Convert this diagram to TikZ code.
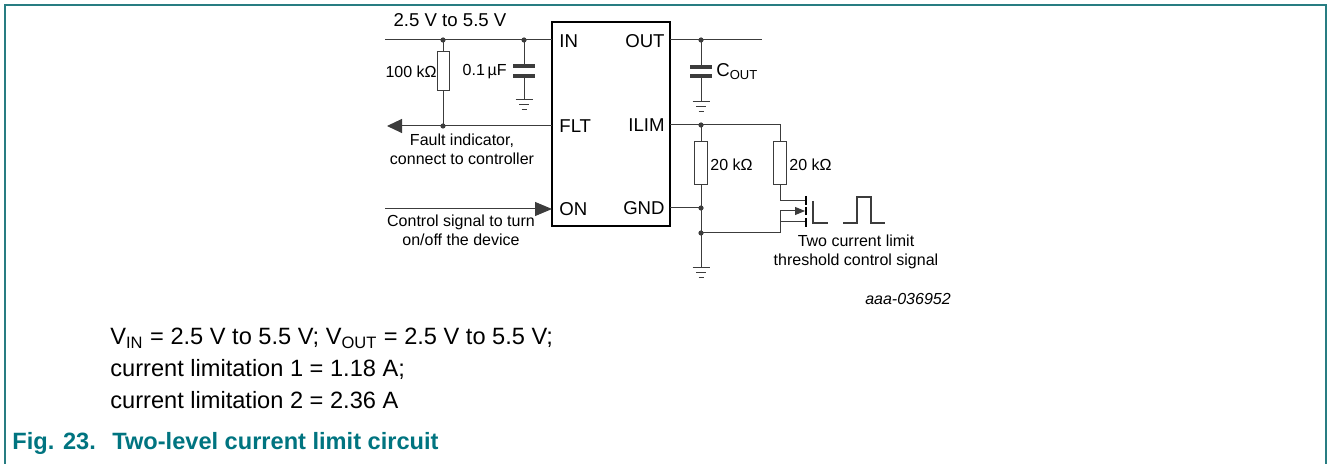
\documentclass[tikz,border=0pt]{standalone}
\usepackage{fontspec}
\setmainfont{Liberation Sans}
\usepackage{tikz}
\usetikzlibrary{arrows, arrows.meta}
\definecolor{wiregray}{RGB}{60,60,60}
\definecolor{nxpteal}{RGB}{0,116,128}
\definecolor{framteal}{RGB}{40,125,130}

\tikzset{gnd/.pic={\draw[wiregray, line width=0.5pt] (-8.5,0) -- (8.5,0) (-5,5) -- (5,5) (-2.5,10) -- (2.5,10);}}

\begin{document}
\begin{tikzpicture}[x=0.5pt, y=-0.5pt]
\tikzstyle{wire}=[draw=wiregray, line width=0.5pt]
\tikzstyle{res}=[draw=wiregray, line width=0.5pt, fill=white, minimum width=6.5pt, minimum height=21.5pt, inner sep=0pt]
\tikzstyle{plate}=[fill=wiregray, minimum width=11pt, minimum height=1.6pt, inner sep=0pt]
\tikzstyle{dot}=[circle, fill=wiregray, minimum size=2.6pt, inner sep=0pt]
\tikzstyle{lbl}=[inner sep=0pt, font=\fontsize{8}{9.6}\selectfont]
\tikzstyle{pin}=[inner sep=0pt, font=\fontsize{9.3}{11}\selectfont]
\tikzstyle{note}=[inner sep=0pt, anchor=base west, font=\fontsize{11.8}{14}\selectfont]
\tikzstyle{bar}=[draw=black, line width=1pt]
\useasboundingbox (0,0) rectangle (1328,464);

% frame
\draw[framteal, line width=1pt] (5,464) -- (5,5) -- (1326,5) -- (1326,464);

% IC
\node[draw, line width=1pt, minimum width=59pt, minimum height=102pt, inner sep=0pt] (ic) at (611,124) {};
\node[pin, anchor=west] (pinin) at (559,41) {IN};
\node[pin, anchor=west] (pinflt) at (559,126) {FLT};
\node[pin, anchor=west] (pinon) at (559,209) {ON};
\node[pin, anchor=east] (pinout) at (665,41) {OUT};
\node[pin, anchor=east] (pinilim) at (665,125) {ILIM};
\node[pin, anchor=east] (pingnd) at (665,208) {GND};

\coordinate (in) at (552,40);
\coordinate (flt) at (552,126);
\coordinate (on) at (552,209);
\coordinate (out) at (670,40);
\coordinate (ilim) at (670,125);
\coordinate (gnd) at (670,208);

% input side
\coordinate (vin) at (385,40);
\coordinate (nr1) at (443,40);
\coordinate (nc1) at (524,40);
\coordinate (nflt) at (443,126);
\coordinate (fault) at (387,126);
\coordinate (ctrl) at (385,209);
\coordinate (g1) at (524,100);

\node[res, minimum width=6pt, minimum height=19.5pt] (r1) at (443,71.5) {};
\node[plate] (c1a) at (524,66) {};
\node[plate] (c1b) at (524,76) {};

\draw[wire] (vin) -- (in);
\draw[wire] (nr1) -- (r1) (r1) -- (nflt);
\draw[wire] (nc1) -- (c1a) (c1b) -- (g1);
\pic at (g1) {gnd};
\draw[wire, -{Triangle[length=7.5pt, width=7pt]}] (flt) -- (fault);
\draw[wire, -{Triangle[length=8.5pt, width=7pt]}] (ctrl) -- (on);
\node[dot] at (nr1) {};
\node[dot] at (nc1) {};
\node[dot] at (nflt) {};

\node[pin, anchor=center] (vlbl) at (450,20) {2.5 V to 5.5 V};
\node[lbl, anchor=east] (r1lbl) at (437,72) {100 kΩ};
\node[lbl, anchor=east] (c1lbl) at (507,72) {0.1\,µF};
\node[lbl, align=center] (faultlbl) at (462,149) {Fault indicator,\\connect to controller};
\node[lbl, align=center] (ctrllbl) at (461,230) {Control signal to turn\\on/off the device};

% output side
\coordinate (vout) at (762,40);
\coordinate (nc2) at (701,40);
\coordinate (g2) at (701,102);
\node[plate] (c2a) at (701,67) {};
\node[plate] (c2b) at (701,76) {};
\draw[wire] (out) -- (vout);
\draw[wire] (nc2) -- (c2a) (c2b) -- (g2);
\pic at (g2) {gnd};
\node[dot] at (nc2) {};
\node[anchor=west, inner sep=0pt, font=\fontsize{9.3}{11}\selectfont] (c2lbl) at (716,72) {C\textsubscript{OUT}};

% current limit network
\coordinate (nilim) at (701,125);
\coordinate (tr) at (780,125);
\coordinate (ngnd) at (701,208);
\coordinate (nsrc) at (701,233);
\coordinate (g3) at (701,268);
\node[res] (r2) at (701,163.5) {};
\node[res] (r3) at (780,163.5) {};
\node[lbl, anchor=west] (r2lbl) at (710,165) {20 kΩ};
\node[lbl, anchor=west] (r3lbl) at (789,165) {20 kΩ};

\draw[wire] (ilim) -- (tr) -- (r3);
\draw[wire] (nilim) -- (r2) (r2) -- (g3);
\draw[wire] (gnd) -- (ngnd);
\pic at (g3) {gnd};

% MOSFET
\coordinate (dk) at (780,201);
\coordinate (drn) at (806,201);
\coordinate (bk) at (780,211);
\coordinate (bdy) at (805,211);
\coordinate (sk) at (780,222);
\coordinate (src) at (806,222);
\coordinate (sl) at (780,233);
\draw[wire] (r3) -- (dk) -- (drn);
\draw[wire, -{Triangle[length=5pt, width=4pt]}] (bk) -- (bdy);
\draw[wire] (bk) -- (sk) -- (src);
\draw[wire] (sk) -- (sl) -- (nsrc);
\draw[bar] (806,196) -- (806,205) (806,207) -- (806,215) (806,218) -- (806,227);
\draw[wire, line width=0.7pt] (813,201) -- (813,223) -- (828,223);
\draw[wire, line width=0.7pt] (843,223) -- (857,223) -- (857,197) -- (871,197) -- (871,223) -- (885,223);
\node[dot] at (nilim) {};
\node[dot] at (ngnd) {};
\node[dot] at (nsrc) {};
\node[lbl, align=center] (siglbl) at (856,252) {Two current limit\\threshold control signal};

\node[lbl, font=\fontsize{8}{9.6}\selectfont\itshape] (figid) at (908,299) {aaa-036952};

% notes and caption
\node[note] (n1) at (110,345) {V\textsubscript{IN} = 2.5 V to 5.5 V; V\textsubscript{OUT} = 2.5 V to 5.5 V;};
\node[note] (n2) at (110,377) {current limitation 1 = 1.18 A;};
\node[note] (n3) at (110,409) {current limitation 2 = 2.36 A};
\node[note, font=\fontsize{11.8}{14}\selectfont\bfseries, text=nxpteal] (figno) at (12,450) {Fig. 23.};
\node[note, font=\fontsize{11.8}{14}\selectfont\bfseries, text=nxpteal] (figtxt) at (112,450) {Two-level current limit circuit};
\end{tikzpicture}
\end{document}
